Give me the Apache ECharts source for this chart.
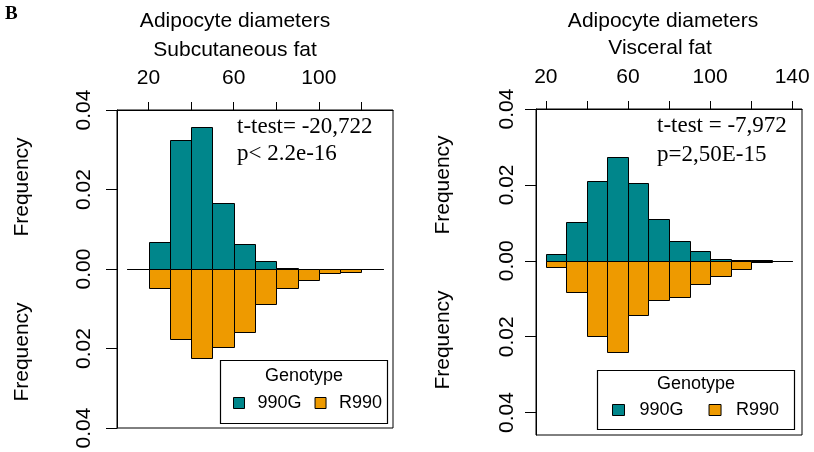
<!DOCTYPE html>
<html>
<head>
<meta charset="utf-8">
<script src="https://cdn.jsdelivr.net/npm/echarts@6/dist/echarts.min.js"></script>
<style>html,body{margin:0;padding:0;background:#fff}#c{width:814px;height:452px}</style>
</head>
<body>
<div id="c"></div>
<script>
// ---- data ----
const subcutBinEdges = [10,20,30,40,50,60,70,80,90,100,110,120,130];
const subcut990G = [0.0001,0.0068,0.0325,0.0356,0.0165,0.0063,0.0020,0.0003,0.0001,0.0001,0,0];
const subcutR990 = [0.0001,0.0049,0.0176,0.0224,0.0195,0.0159,0.0087,0.0049,0.0028,0.0011,0.0007,0.0001];

const viscBinEdges = [20,30,40,50,60,70,80,90,100,110,120,130,140];
const visc990G = [0.0018,0.0103,0.0210,0.0274,0.0204,0.0110,0.0053,0.0026,0.0006,0.0003,0.0001,0];
const viscR990 = [0.0017,0.0083,0.0199,0.0240,0.0143,0.0103,0.0095,0.0060,0.0039,0.0021,0.0004,0.0001];

const subcutXTicks = [20,40,60,80,100,120];
const subcutXLabels = [20,60,100];
const viscXTicks = [20,40,60,80,100,120,140];
const viscXLabels = [20,60,100,140];
const yTicks = [-0.04,-0.02,0,0.02,0.04];

const seriesNames = ['990G','R990'];
const TEAL = '#00868B', ORANGE = '#EE9A00';
const SANS = 'Liberation Sans';
const SERIF = 'Liberation Serif';

function binsData(edges, vals, sign){
  return vals.map((v,i)=>[edges[i], edges[i+1], sign*v]);
}
function renderBar(color){
  return function(params, api){
    const x0 = api.value(0), x1 = api.value(1), h = api.value(2);
    const p0 = api.coord([x0, h]);
    const p1 = api.coord([x1, 0]);
    const y = Math.round(Math.min(p0[1], p1[1])) + 0.5;
    const yb = Math.round(Math.max(p0[1], p1[1])) + 0.5;
    const xa = Math.round(p0[0]) + 0.5, xb = Math.round(p1[0]) + 0.5;
    return {type:'rect', shape:{x:xa, y:y, width:xb-xa, height:yb-y},
      style:{fill:color, stroke:'#000', lineWidth:1}};
  };
}
function xAxisCfg(grid, min, max, ticks, labels){
  return {type:'value', gridIndex:grid, position:'top', min:min, max:max,
    axisLine:{show:true, onZero:false, lineStyle:{color:'#000', width:1}},
    axisTick:{show:true, customValues:ticks, length:8, lineStyle:{color:'#000'}},
    axisLabel:{customValues:labels, margin:21, color:'#000', fontSize:21, fontFamily:SANS},
    splitLine:{show:false}};
}
function yAxisCfg(grid, min, max, margin){
  return {type:'value', gridIndex:grid, min:min, max:max,
    axisLine:{show:true, onZero:false, lineStyle:{color:'#000', width:1}},
    axisTick:{show:true, customValues:yTicks, length:11, lineStyle:{color:'#000'}},
    axisLabel:{customValues:yTicks, rotate:90, margin:margin, color:'#000', fontSize:21, fontFamily:SANS,
      formatter:v=>Math.abs(v).toFixed(2)},
    splitLine:{show:false}};
}
function txt(x,y,s,size,family,align,rot,weight){
  return {type:'text', x:x, y:y, rotation:rot||0, z:6,
    style:{text:s, fontSize:size, fontFamily:family, fontWeight:weight||'normal', fill:'#000',
      align:align||'center', verticalAlign:'middle'}};
}

const chart = echarts.init(document.getElementById('c'), null, {renderer:'canvas'});
chart.setOption({
  animation:false,
  backgroundColor:'#fff',
  grid:[
    {left:117, top:110, width:276, height:318, show:true, borderColor:'#000', borderWidth:1, backgroundColor:'transparent'},
    {left:536, top:109, width:266, height:326, show:true, borderColor:'#000', borderWidth:1, backgroundColor:'transparent'}
  ],
  xAxis:[ xAxisCfg(0, 5.2, 134.8, subcutXTicks, subcutXLabels), xAxisCfg(1, 15.2, 144.8, viscXTicks, viscXLabels) ],
  yAxis:[ yAxisCfg(0, -0.04, 0.04, 22), yAxisCfg(1, -0.0459, 0.04, 18) ],
  legend:[
    {left:233, top:394, z:20, padding:0, itemWidth:11, itemHeight:11, itemGap:13, selectedMode:false,
     textStyle:{fontSize:18, fontFamily:SANS, color:'#000', padding:[0,0,0,8]},
     data:[{name:seriesNames[0], icon:'rect', itemStyle:{color:TEAL, borderColor:'#000', borderWidth:1}},
           {name:seriesNames[1], icon:'rect', itemStyle:{color:ORANGE, borderColor:'#000', borderWidth:1}}]},
    {left:612, top:401, z:20, padding:0, itemWidth:12, itemHeight:11, itemGap:25, selectedMode:false,
     textStyle:{fontSize:18, fontFamily:SANS, color:'#000', padding:[0,0,0,10]},
     data:[{name:seriesNames[0], icon:'rect', itemStyle:{color:TEAL, borderColor:'#000', borderWidth:1}},
           {name:seriesNames[1], icon:'rect', itemStyle:{color:ORANGE, borderColor:'#000', borderWidth:1}}]}
  ],
  series:[
    {type:'custom', name:seriesNames[0], xAxisIndex:0, yAxisIndex:0, clip:true, itemStyle:{color:TEAL},
     renderItem:renderBar(TEAL), encode:{x:[0,1], y:2}, data:binsData(subcutBinEdges, subcut990G, 1)},
    {type:'custom', name:seriesNames[1], xAxisIndex:0, yAxisIndex:0, clip:true, itemStyle:{color:ORANGE},
     renderItem:renderBar(ORANGE), encode:{x:[0,1], y:2}, data:binsData(subcutBinEdges, subcutR990, -1)},
    {type:'custom', name:seriesNames[0], xAxisIndex:1, yAxisIndex:1, clip:true, itemStyle:{color:TEAL},
     renderItem:renderBar(TEAL), encode:{x:[0,1], y:2}, data:binsData(viscBinEdges, visc990G, 1)},
    {type:'custom', name:seriesNames[1], xAxisIndex:1, yAxisIndex:1, clip:true, itemStyle:{color:ORANGE},
     renderItem:renderBar(ORANGE), encode:{x:[0,1], y:2}, data:binsData(viscBinEdges, viscR990, -1)}
  ],
  graphic:[
    txt(5, 14, 'B', 19, SERIF, 'left', 0, 'bold'),
    txt(235, 21, 'Adipocyte diameters', 21, SANS),
    txt(235, 50, 'Subcutaneous fat', 21, SANS),
    txt(663, 21, 'Adipocyte diameters', 21, SANS),
    txt(660, 48, 'Visceral fat', 21, SANS),
    txt(22, 187, 'Frequency', 21, SANS, 'center', Math.PI/2),
    txt(22, 352, 'Frequency', 21, SANS, 'center', Math.PI/2),
    txt(443, 185, 'Frequency', 21, SANS, 'center', Math.PI/2),
    txt(443, 340, 'Frequency', 21, SANS, 'center', Math.PI/2),
    txt(237, 127, 't-test= -20,722', 23, SERIF, 'left'),
    txt(237, 154, 'p< 2.2e-16', 23, SERIF, 'left'),
    txt(657, 126, 't-test = -7,972', 23, SERIF, 'left'),
    txt(657, 155, 'p=2,50E-15', 23, SERIF, 'left'),
    {type:'rect', z:5, shape:{x:220.5, y:360.5, width:167, height:63}, style:{fill:'#fff', stroke:'#000', lineWidth:1.2}},
    {type:'rect', z:5, shape:{x:597.5, y:370.5, width:197, height:59}, style:{fill:'#fff', stroke:'#000', lineWidth:1.2}},
    txt(304, 376, 'Genotype', 18, SANS),
    txt(696, 384, 'Genotype', 18, SANS)
  ]
});
</script>
</body>
</html>
